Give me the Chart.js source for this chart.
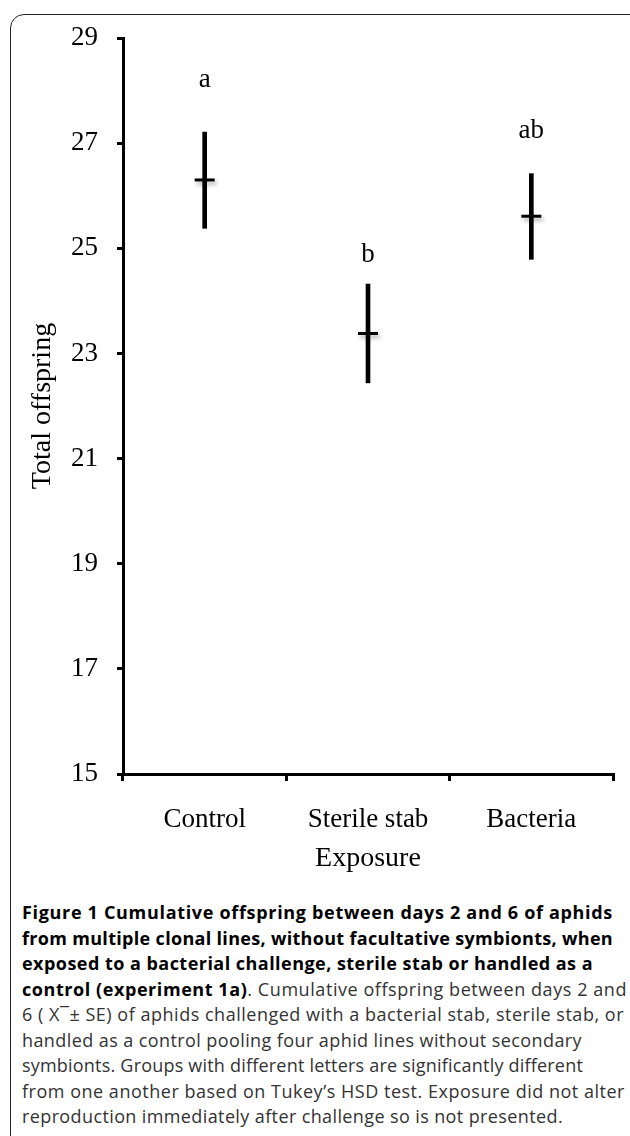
<!DOCTYPE html>
<html><head><meta charset="utf-8">
<script src="https://cdn.jsdelivr.net/npm/chart.js@4.4.1/dist/chart.umd.min.js"></script>
<style>
html,body{margin:0;padding:0;background:#fff;width:630px;height:1136px;overflow:hidden;position:relative}
#frame{position:absolute;left:10px;top:14px;width:660px;height:1200px;border:1.5px solid #222;border-radius:14px;box-sizing:border-box}
#wrap{position:absolute;left:0;top:0;width:630px;height:880px}
#cap{position:absolute;left:22px;top:900px;font-family:'Open Sans',sans-serif;color:#333;white-space:nowrap;font-size:18px;line-height:25.5px}
#cap span{display:block;width:max-content}
#cap b{font-weight:700;color:#000}
</style></head><body>
<div id="frame"></div>
<div id="wrap"><canvas id="c" width="630" height="880"></canvas></div>
<div id="cap">
<span><b>Figure 1 Cumulative offspring between days 2 and 6 of aphids</b></span>
<span><b>from multiple clonal lines, without facultative symbionts, when</b></span>
<span><b>exposed to a bacterial challenge, sterile stab or handled as a</b></span>
<span><b>control (experiment 1a)</b>. Cumulative offspring between days 2 and</span>
<span>6 ( X&#175;&#177; SE) of aphids challenged with a bacterial stab, sterile stab, or</span>
<span>handled as a control pooling four aphid lines without secondary</span>
<span>symbionts. Groups with different letters are significantly different</span>
<span>from one another based on Tukey&#8217;s HSD test. Exposure did not alter</span>
<span>reproduction immediately after challenge so is not presented.</span>
</div>
<script>
const categories = ['Control', 'Sterile stab', 'Bacteria'];
const meanOffspring = [26.30, 23.38, 25.61];
const upperSE = [27.21, 24.32, 26.42];
const lowerSE = [25.38, 22.44, 24.79];
const groupLetters = ['a', 'b', 'ab'];
const letterLevels = [28.2, 24.88, 27.23];
const yTicks = [15, 17, 19, 21, 23, 25, 27, 29];

const serif = '"Liberation Serif", "Times New Roman", serif';

const lettersPlugin = {
  id: 'letters',
  afterDatasetsDraw(chart) {
    const ctx = chart.ctx, xs = chart.scales.x, ys = chart.scales.y;
    ctx.save();
    ctx.font = '27px ' + serif;
    ctx.fillStyle = '#000';
    ctx.textAlign = 'center';
    ctx.textBaseline = 'middle';
    groupLetters.forEach((t, i) => ctx.fillText(t, xs.getPixelForValue(i), ys.getPixelForValue(letterLevels[i])));
    ctx.restore();
  }
};
const shadowPlugin = {
  id: 'meanShadow',
  beforeDatasetDraw(chart, args) {
    if (args.index === 1) {
      const ctx = chart.ctx; ctx.save();
      ctx.shadowColor = 'rgba(0,0,0,0.35)'; ctx.shadowBlur = 4; ctx.shadowOffsetX = 2; ctx.shadowOffsetY = 3;
    }
  },
  afterDatasetDraw(chart, args) { if (args.index === 1) chart.ctx.restore(); }
};

function build() {
new Chart(document.getElementById('c'), {
  type: 'bar',
  data: {
    labels: categories,
    datasets: [
      { type: 'bar', data: categories.map((c, i) => [lowerSE[i], upperSE[i]]), backgroundColor: '#000', borderWidth: 0, barThickness: 4, order: 2 },
      { type: 'line', data: meanOffspring, showLine: false, pointStyle: 'line', pointRadius: 10, pointHoverRadius: 10, pointBorderWidth: 3, borderColor: '#000', backgroundColor: '#000', order: 1 }
    ]
  },
  options: {
    responsive: false, animation: false, devicePixelRatio: 1,
    layout: { padding: { top: 38, right: 17, left: 0, bottom: 0 } },
    plugins: { legend: { display: false }, tooltip: { enabled: false } },
    scales: {
      x: {
        offset: true,
        grid: { offset: true, drawOnChartArea: false, drawTicks: true, tickLength: 7, color: '#000', lineWidth: 3 },
        border: { display: true, color: '#000', width: 3 },
        ticks: { color: '#000', font: { family: serif, size: 27 }, padding: 23, maxRotation: 0 },
        title: { display: true, text: 'Exposure', color: '#000', font: { family: serif, size: 28 }, padding: { top: 0, bottom: 5 } },
        afterFit(s) { s.height = 106; }
      },
      y: {
        min: 15, max: 29,
        afterBuildTicks(s) { s.ticks = yTicks.map(v => ({ value: v })); },
        grid: { drawOnChartArea: false, drawTicks: true, tickLength: 6, color: '#000', lineWidth: 3 },
        border: { display: true, color: '#000', width: 3 },
        ticks: { color: '#000', font: { family: serif, size: 27 }, padding: 19 },
        title: { display: true, text: 'Total offspring', color: '#000', font: { family: serif, size: 28 }, padding: { top: 26, bottom: 0 } },
        afterFit(s) { s.width = 123; }
      }
    }
  },
  plugins: [lettersPlugin, shadowPlugin]
});
}

const captionLineWidths = [591, 591, 571, 605, 602, 560, 561, 603, 541];
function fitCaption() {
  const spans = document.querySelectorAll('#cap span');
  spans.forEach((s, i) => {
    const n = s.textContent.length;
    const w = s.getBoundingClientRect().width;
    s.style.letterSpacing = ((captionLineWidths[i] - w) / n).toFixed(3) + 'px';
  });
}
(document.fonts && document.fonts.ready ? document.fonts.ready : Promise.resolve()).then(() => { fitCaption(); build(); });
</script>
</body></html>
